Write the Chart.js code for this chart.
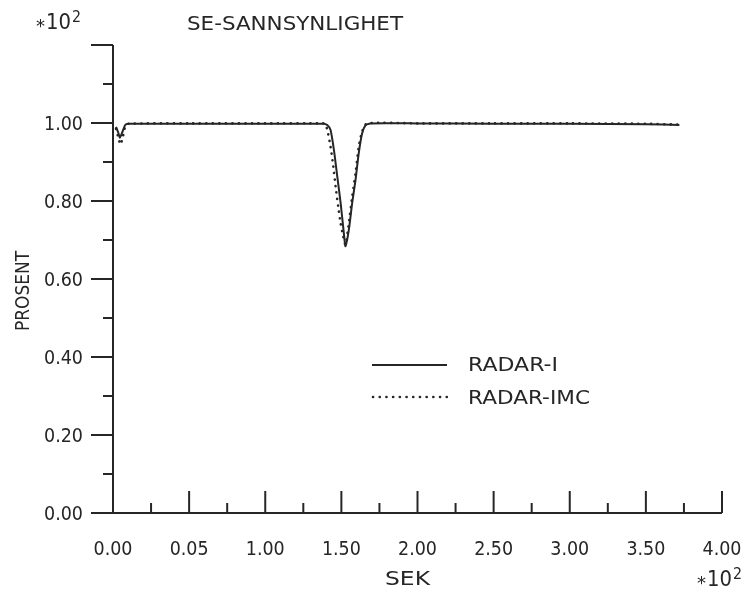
<!DOCTYPE html>
<html>
<head>
<meta charset="utf-8">
<title>SE-SANNSYNLIGHET</title>
<script src="https://cdn.jsdelivr.net/npm/chart.js@4.4.1/dist/chart.umd.min.js"></script>
<style>
  html, body { margin: 0; padding: 0; background: #ffffff; }
  #wrap { position: relative; width: 745px; height: 589px; }
</style>
</head>
<body>
<div id="wrap"><canvas id="seChart" width="745" height="589"></canvas></div>
<script>
// Tid i sekunder (x 10^2) og sannsynlighet (x 10^2 prosent)
const timeRadarI = [0.02, 0.035, 0.045, 0.06, 0.08, 0.10, 0.50, 1.00, 1.38, 1.407, 1.429, 1.451, 1.473, 1.495, 1.516, 1.527,
                    1.549, 1.571, 1.593, 1.614, 1.636, 1.658, 1.69, 2.00, 2.50, 3.00, 3.50, 3.72];
const probRadarI = [0.990, 0.975, 0.962, 0.975, 0.995, 0.998, 0.998, 0.998, 0.998, 0.995, 0.982, 0.931, 0.863, 0.795, 0.718, 0.684,
                    0.726, 0.795, 0.854, 0.922, 0.973, 0.994, 0.999, 0.999, 0.998, 0.998, 0.997, 0.995];

const timeRadarIMC = [0.02, 0.035, 0.05, 0.065, 0.08, 0.10, 0.50, 1.00, 1.38, 1.396, 1.413, 1.429, 1.447, 1.462, 1.479, 1.495,
                      1.512, 1.527, 1.549, 1.571, 1.593, 1.614, 1.636, 1.668, 2.00, 2.50, 3.00, 3.50, 3.72];
const probRadarIMC = [0.985, 0.962, 0.945, 0.965, 0.990, 0.998, 0.999, 0.999, 0.999, 0.997, 0.973, 0.939, 0.888, 0.837, 0.786, 0.743,
                      0.709, 0.688, 0.743, 0.811, 0.871, 0.939, 0.978, 0.999, 0.999, 0.999, 0.999, 0.998, 0.996];

// Aksetekster
const xTickValues = [0, 0.5, 1, 1.5, 2, 2.5, 3, 3.5, 4];
const xTickLabels = ['0.00', '0.05', '1.00', '1.50', '2.00', '2.50', '3.00', '3.50', '4.00'];
const yTickValues = [0, 0.2, 0.4, 0.6, 0.8, 1.0];
const yTickLabels = ['0.00', '0.20', '0.40', '0.60', '0.80', '1.00'];

const INK = '#262626';
const FONT = '"DejaVu Sans", sans-serif';

function toPoints(xs, ys) {
    return xs.map((x, i) => ({ x: x, y: ys[i] }));
}

// Plotterskriften er smal: tekst strekkes/klemmes til fast bredde
function fitText(ctx, text, x, y, width, align) {
    const w = ctx.measureText(text).width;
    ctx.save();
    ctx.translate(x, y);
    ctx.scale(width / w, 1);
    ctx.textAlign = align;
    ctx.fillText(text, 0, 0);
    ctx.restore();
}

// Skalafaktor "*10^2"
function drawScaleFactor(ctx, x, y) {
    ctx.textAlign = 'left';
    ctx.font = '18px ' + FONT;
    ctx.fillText('*', x, y + 4);
    ctx.font = '21px ' + FONT;
    fitText(ctx, '10', x + 10, y + 1, 25, 'left');
    ctx.font = '15px ' + FONT;
    fitText(ctx, '2', x + 36, y - 5, 9, 'left');
}

// Tegner akser, merker, tekster og forklaring med Chart.js sine skalaer
const plotterAkser = {
    id: 'plotterAkser',
    afterDraw(chart) {
        const ctx = chart.ctx;
        const xs = chart.scales.x;
        const ys = chart.scales.y;
        const x0 = xs.getPixelForValue(0);
        const x4 = xs.getPixelForValue(4);
        const y0 = ys.getPixelForValue(0);
        const yTop = ys.getPixelForValue(1.2);

        ctx.save();
        ctx.strokeStyle = INK;
        ctx.fillStyle = INK;
        ctx.lineWidth = 2;
        ctx.lineCap = 'butt';

        // aksestreker
        ctx.beginPath();
        ctx.moveTo(x0, yTop);
        ctx.lineTo(x0, y0);
        ctx.lineTo(x4, y0);
        ctx.stroke();

        // merker på y-aksen (peker ut til venstre)
        for (let i = 0; i <= 12; i++) {
            const py = ys.getPixelForValue(i / 10);
            const len = i % 2 === 0 ? 22 : 10;
            ctx.beginPath();
            ctx.moveTo(x0 - len, py);
            ctx.lineTo(x0, py);
            ctx.stroke();
        }

        // merker på x-aksen (peker opp)
        for (let i = 0; i <= 16; i++) {
            const px = xs.getPixelForValue(i / 4);
            const len = i % 2 === 0 ? 22 : 10;
            ctx.beginPath();
            ctx.moveTo(px, y0);
            ctx.lineTo(px, y0 - len);
            ctx.stroke();
        }

        ctx.font = '20px ' + FONT;
        ctx.textBaseline = 'middle';

        yTickValues.forEach((v, i) => {
            fitText(ctx, yTickLabels[i], x0 - 30, ys.getPixelForValue(v) + 2, 39, 'right');
        });

        xTickValues.forEach((v, i) => {
            fitText(ctx, xTickLabels[i], xs.getPixelForValue(v), y0 + 37, 39, 'center');
        });

        // aksetitler
        fitText(ctx, 'SEK', 385, 580, 45, 'left');
        fitText(ctx, 'SE-SANNSYNLIGHET', 187, 25, 216, 'left');

        ctx.save();
        ctx.translate(24, 291);
        ctx.rotate(-Math.PI / 2);
        fitText(ctx, 'PROSENT', 0, 0, 80, 'center');
        ctx.restore();

        // skalafaktorer
        drawScaleFactor(ctx, 36, 23);
        drawScaleFactor(ctx, 697, 580);

        // forklaring
        ctx.font = '20px ' + FONT;
        ctx.lineWidth = 2;
        ctx.beginPath();
        ctx.moveTo(372, 365);
        ctx.lineTo(447, 365);
        ctx.stroke();
        fitText(ctx, 'RADAR-I', 468, 366, 90, 'left');

        ctx.lineWidth = 2.6;
        ctx.lineCap = 'round';
        ctx.setLineDash([0.1, 6.6]);
        ctx.beginPath();
        ctx.moveTo(373, 397);
        ctx.lineTo(447, 397);
        ctx.stroke();
        ctx.setLineDash([]);
        fitText(ctx, 'RADAR-IMC', 468, 399, 122, 'left');

        ctx.restore();
    }
};

new Chart(document.getElementById('seChart'), {
    type: 'line',
    data: {
        datasets: [
            {
                label: 'RADAR-I',
                data: toPoints(timeRadarI, probRadarI),
                borderColor: INK,
                borderWidth: 2,
                pointRadius: 0,
                tension: 0.2,
                fill: false
            },
            {
                label: 'RADAR-IMC',
                data: toPoints(timeRadarIMC, probRadarIMC),
                borderColor: INK,
                borderWidth: 2.6,
                borderDash: [0.1, 6.4],
                borderCapStyle: 'round',
                pointRadius: 0,
                tension: 0.2,
                fill: false
            }
        ]
    },
    options: {
        responsive: false,
        animation: false,
        layout: { padding: { left: 113, right: 23, top: 45, bottom: 76 } },
        plugins: {
            legend: { display: false },
            tooltip: { enabled: false },
            title: { display: false }
        },
        scales: {
            x: { type: 'linear', min: 0, max: 4, display: false },
            y: { type: 'linear', min: 0, max: 1.2, display: false }
        }
    },
    plugins: [plotterAkser]
});
</script>
</body>
</html>
